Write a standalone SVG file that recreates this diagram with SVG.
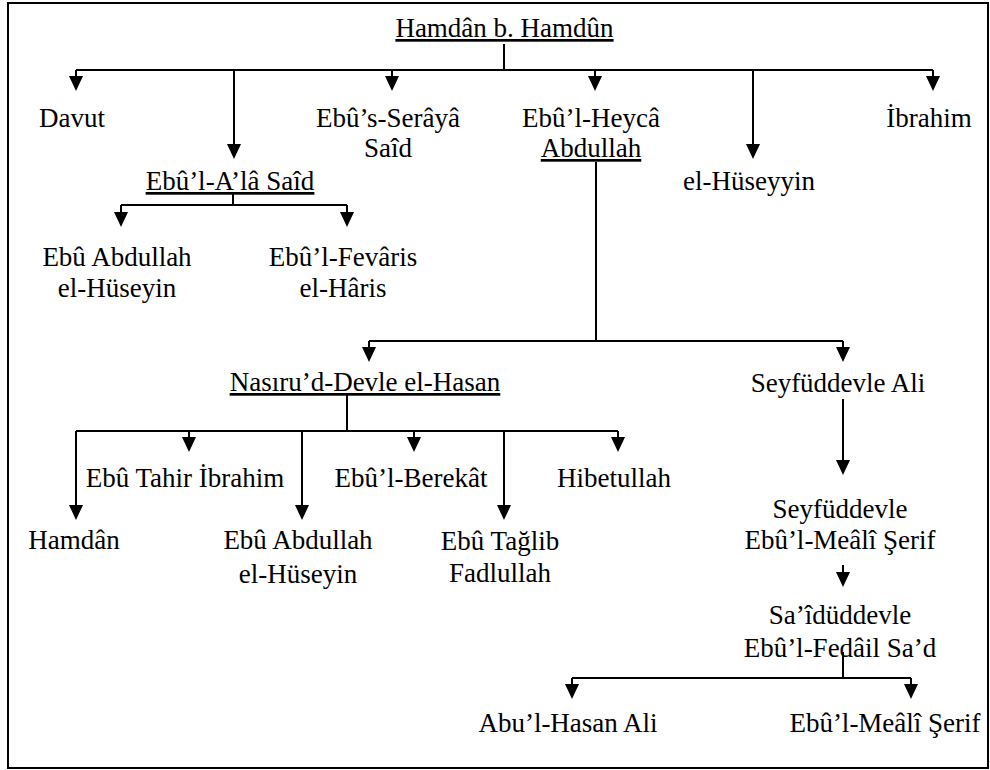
<svg xmlns="http://www.w3.org/2000/svg" width="990" height="770" viewBox="0 0 990 770">
<style>
text{font-family:'Liberation Serif','DejaVu Serif',Tinos,serif;font-size:27px;fill:#000;text-anchor:middle}
.u{text-decoration:underline}
.c path,.c line{stroke:#000;stroke-width:2;fill:none}
.a{marker-end:url(#ah)}
</style>
<defs>
<marker id="ah" markerUnits="userSpaceOnUse" markerWidth="16" markerHeight="15" refX="12" refY="7" orient="auto">
<path d="M0,0 L15,7 L0,14 Z" fill="#000" stroke="none"/>
</marker>
</defs>
<rect x="8" y="3" width="980" height="765" fill="#fff" stroke="#000" stroke-width="2"/>
<g class="c" id="connectors">
<path d="M504,44 V70 M76,70 H933"/>
<line class="a" x1="76" y1="70" x2="76" y2="88"/>
<line class="a" x1="234" y1="70" x2="234" y2="156"/>
<line class="a" x1="392" y1="70" x2="392" y2="88"/>
<line class="a" x1="595" y1="70" x2="595" y2="88"/>
<line class="a" x1="753" y1="70" x2="753" y2="156"/>
<line class="a" x1="933" y1="70" x2="933" y2="88"/>
<path d="M233,194 V205 M121,205 H347"/>
<line class="a" x1="121" y1="205" x2="121" y2="224"/>
<line class="a" x1="347" y1="205" x2="347" y2="224"/>
<path d="M596,162 V341 M369,341 H843"/>
<line class="a" x1="369" y1="341" x2="369" y2="359"/>
<line class="a" x1="843" y1="341" x2="843" y2="359"/>
<path d="M347,395 V431 M76,431 H618"/>
<line class="a" x1="76" y1="431" x2="76" y2="517"/>
<line class="a" x1="189" y1="431" x2="189" y2="449"/>
<line class="a" x1="302" y1="431" x2="302" y2="517"/>
<line class="a" x1="414" y1="431" x2="414" y2="449"/>
<line class="a" x1="504" y1="431" x2="504" y2="517"/>
<line class="a" x1="618" y1="431" x2="618" y2="449"/>
<line class="a" x1="843" y1="399" x2="843" y2="472"/>
<line class="a" x1="843" y1="565" x2="843" y2="584"/>
<path d="M843,652 V678 M572,678 H911"/>
<line class="a" x1="572" y1="678" x2="572" y2="696"/>
<line class="a" x1="911" y1="678" x2="911" y2="696"/>
</g>
<g id="n-root"><text class="u" x="504.5" y="37">Hamdân b. Hamdûn</text></g>
<g id="n-davut"><text x="72" y="127">Davut</text></g>
<g id="n-seraya"><text x="388" y="127">Ebû’s-Serâyâ</text><text x="388" y="157">Saîd</text></g>
<g id="n-heyca"><text x="591" y="127">Ebû’l-Heycâ</text><text class="u" x="591" y="157">Abdullah</text></g>
<g id="n-ibrahim"><text x="929" y="127">İbrahim</text></g>
<g id="n-ala"><text class="u" x="230" y="190">Ebû’l-A’lâ Saîd</text></g>
<g id="n-huseyyin"><text x="749" y="190">el-Hüseyyin</text></g>
<g id="n-abdullah1"><text x="117" y="266">Ebû Abdullah</text><text x="117" y="297">el-Hüseyin</text></g>
<g id="n-fevaris"><text x="343" y="266">Ebû’l-Fevâris</text><text x="343" y="297">el-Hâris</text></g>
<g id="n-nasir"><text class="u" x="365" y="391">Nasıru’d-Devle el-Hasan</text></g>
<g id="n-seyf"><text x="838" y="392">Seyfüddevle Ali</text></g>
<g id="n-tahir"><text x="185" y="487">Ebû Tahir İbrahim</text></g>
<g id="n-berekat"><text x="411" y="487">Ebû’l-Berekât</text></g>
<g id="n-hibe"><text x="614" y="487">Hibetullah</text></g>
<g id="n-hamdan"><text x="74" y="549">Hamdân</text></g>
<g id="n-abdullah2"><text x="298" y="549">Ebû Abdullah</text><text x="298" y="583">el-Hüseyin</text></g>
<g id="n-taglib"><text x="500" y="550">Ebû Tağlib</text><text x="500" y="582">Fadlullah</text></g>
<g id="n-seyf2"><text x="840" y="518">Seyfüddevle</text><text x="840" y="549">Ebû’l-Meâlî Şerif</text></g>
<g id="n-said"><text x="840" y="624">Sa’îdüddevle</text><text x="840" y="657">Ebû’l-Fedâil Sa’d</text></g>
<g id="n-abulhasan"><text x="568" y="732">Abu’l-Hasan Ali</text></g>
<g id="n-meali"><text x="885" y="732">Ebû’l-Meâlî Şerif</text></g>
</svg>
